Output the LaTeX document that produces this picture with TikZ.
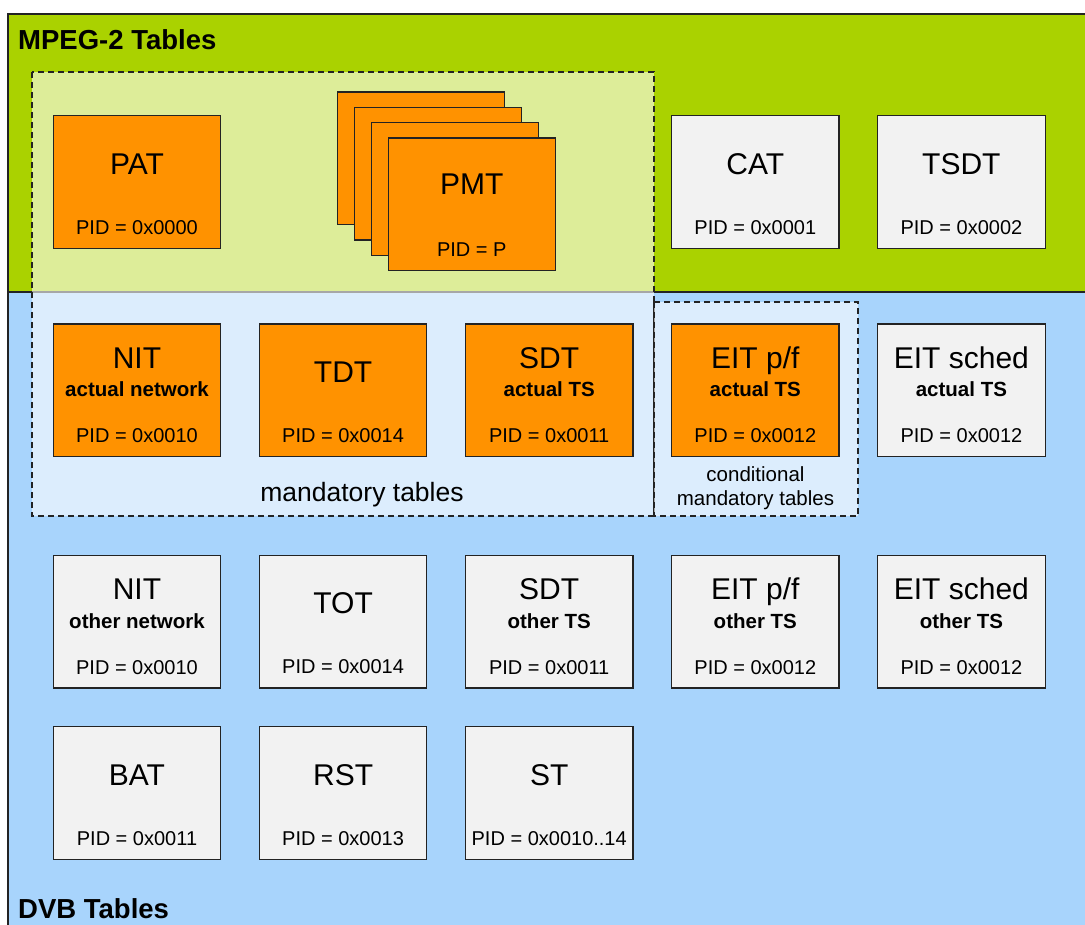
\documentclass[tikz,border=0pt]{standalone}
\usepackage{fontspec}
\setmainfont{Liberation Sans}
\usetikzlibrary{positioning}

\definecolor{mpeggreen}{RGB}{170,210,0}
\definecolor{dvbblue}{RGB}{168,212,252}
\definecolor{taborange}{RGB}{255,146,0}
\definecolor{tabgrey}{RGB}{242,242,242}
\definecolor{frameline}{RGB}{35,35,35}

\begin{document}
\begin{tikzpicture}[
    x=1pt, y=-1pt,
    node distance=75.7pt and 38.7pt,
    tabbox/.style={
        draw=frameline,
        line width=1.2pt,
        minimum width=167.4pt,
        minimum height=132.6pt,
        inner sep=0pt,
        outer sep=0pt
    },
    mandbox/.style={tabbox, fill=taborange},
    optbox/.style={tabbox, fill=tabgrey},
    tabtitle/.style={anchor=base, inner sep=0pt, font=\fontsize{30}{36}\selectfont},
    tabsub/.style={anchor=base, inner sep=0pt, font=\fontsize{20.5}{24}\selectfont\bfseries},
    tabpid/.style={anchor=base, inner sep=0pt, font=\fontsize{20}{24}\selectfont},
    heading/.style={anchor=base west, inner sep=0pt, font=\fontsize{27.5}{30}\selectfont\bfseries},
    grouplabel/.style={anchor=base, inner sep=0pt, align=center},
    groupbox/.style={draw=frameline, line width=1.2pt, dash pattern=on 6pt off 4pt,
        fill=white, fill opacity=0.6}
]

\clip (0,0) rectangle (1085,925);
\fill[white] (0,0) rectangle (1085,925);

% MPEG-2 and DVB areas
\fill[mpeggreen] (8,14) rectangle (1100,292);
\fill[dvbblue] (8,292) rectangle (1100,940);
\draw[frameline, line width=1.2pt] (1100,14) -- (8,14) -- (8,940);
\draw[frameline, line width=1.2pt] (8,292) -- (1100,292);

% Mandatory / conditional groups
\draw[groupbox] (32,72) rectangle (654,516);
\draw[groupbox] (654,302) rectangle (858,516);

% MPEG-2 tables
\node[mandbox] (pat) at (137,182) {};
\foreach \k in {3,2,1}
    \node[mandbox] (pmt\k) at (471.8-17*\k, 204.3-15.3*\k) {};
\node[mandbox] (pmt) at (471.8,204.3) {};

% DVB tables, actual
\node[mandbox] (nit) [below=of pat] {};
\node[mandbox] (tdt) [right=of nit] {};
\node[mandbox] (sdt) [right=of tdt] {};
\node[mandbox] (eitpf) [right=of sdt] {};
\node[optbox] (eits) [right=of eitpf] {};
\node[optbox] (cat) [above=of eitpf] {};
\node[optbox] (tsdt) [above=of eits] {};

% DVB tables, other
\node[optbox] (nito) [below=98.7pt of nit] {};
\node[optbox] (tot) [right=of nito] {};
\node[optbox] (sdto) [right=of tot] {};
\node[optbox] (eitpfo) [right=of sdto] {};
\node[optbox] (eitso) [right=of eitpfo] {};

\node[optbox] (bat) [below=38.7pt of nito] {};
\node[optbox] (rst) [right=of bat] {};
\node[optbox] (st) [right=of rst] {};

% Box texts
\node[tabtitle] (pmt-t) at ([yshift=-57pt]pmt.north) {PMT};
\node[tabpid] (pmt-p) at ([yshift=-118.7pt]pmt.north) {PID = P};

\foreach \b/\t/\p in {pat/PAT/0x0000, cat/CAT/0x0001, tsdt/TSDT/0x0002,
        tdt/TDT/0x0014, tot/TOT/0x0014, bat/BAT/0x0011, rst/RST/0x0013,
        st/ST/0x0010..14} {
    \node[tabtitle] (\b-t) at ([yshift=-58.5pt]\b.north) {\t};
    \node[tabpid] (\b-p) at ([yshift=-118.5pt]\b.north) {PID = \p};
}

\foreach \b/\t/\s/\p in {nit/NIT/actual network/0x0010, sdt/SDT/actual TS/0x0011,
        eitpf/{EIT p/f}/actual TS/0x0012, eits/EIT sched/actual TS/0x0012,
        nito/NIT/other network/0x0010, sdto/SDT/other TS/0x0011,
        eitpfo/{EIT p/f}/other TS/0x0012, eitso/EIT sched/other TS/0x0012} {
    \node[tabtitle] (\b-t) at ([yshift=-44.3pt]\b.north) {\t};
    \node[tabsub] (\b-s) at ([yshift=-72.7pt]\b.north) {\s};
    \node[tabpid] (\b-p) at ([yshift=-118.7pt]\b.north) {PID = \p};
}

% Area and group labels
\node[heading] (mpeg) at (18,50) {MPEG-2 Tables};
\node[heading] (dvb) at (18,918) {DVB Tables};
\node[grouplabel, font=\fontsize{26.5}{30}\selectfont] (mandlbl) at (362,501.7) {mandatory tables};
\node[grouplabel, font=\fontsize{20.5}{23.3}\selectfont] (condlbl) at (755.5,505) {conditional\\mandatory tables};

\end{tikzpicture}
\end{document}
